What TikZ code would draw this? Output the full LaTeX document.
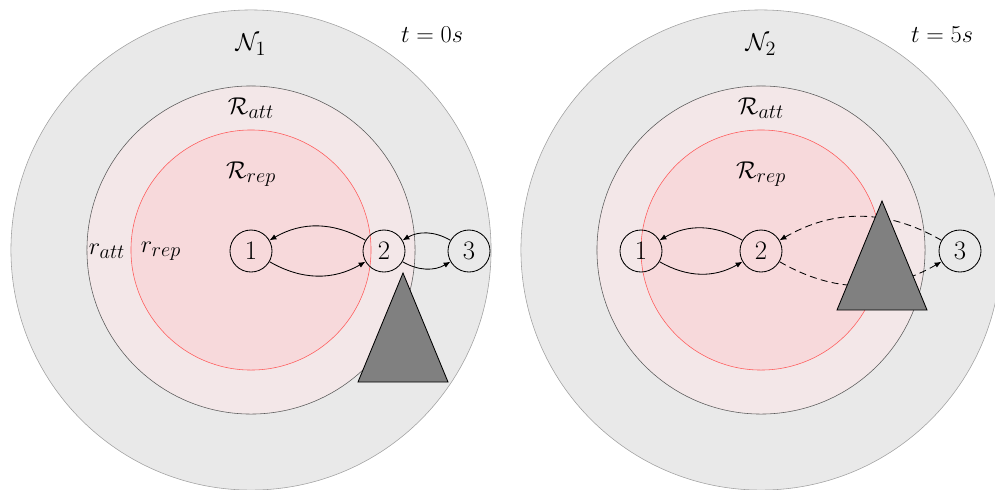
\documentclass[tikz,border=0pt]{standalone}
\usetikzlibrary{arrows.meta}
\definecolor{outerfill}{RGB}{233,233,233}
\definecolor{outerdraw}{RGB}{160,160,160}
\definecolor{midfill}{RGB}{243,231,232}
\definecolor{middraw}{RGB}{90,90,90}
\definecolor{innerfill}{RGB}{247,217,219}
\definecolor{innerdraw}{RGB}{255,90,90}
\definecolor{obst}{RGB}{128,128,128}
\begin{document}
\begin{tikzpicture}[x=0.025cm,y=-0.025cm,
  agent/.style={circle,draw,line width=0.6pt,minimum size=1.05cm,inner sep=0pt,font=\fontsize{19}{23}\selectfont},
  lbl/.style={font=\fontsize{19}{23}\selectfont},
  link/.style={line width=0.6pt,-{Latex[length=1.7mm,width=1.4mm]},bend right=30},
  dlink/.style={link,dash pattern=on 5pt off 3pt},
  outerc/.style={fill=outerfill,draw=outerdraw},
  midc/.style={fill=midfill,draw=middraw},
  innerc/.style={fill=innerfill,draw=innerdraw},
  obstacle/.style={fill=obst,draw=black,line width=0.6pt,line join=miter}]
\useasboundingbox (0,0) rectangle (995,489);
\clip (0,0) rectangle (995,489);
% left panel
\path[outerc] (251,250) circle[radius=6cm];
\path[midc] (251,250) circle[radius=4.1cm];
\path[innerc] (251,250) circle[radius=3cm];
\node[lbl] (N1) at (251,45) {$\mathcal{N}_1$};
\node[lbl] (Ra1) at (251,108) {$\mathcal{R}_{att}$};
\node[lbl] (Rr1) at (251,174) {$\mathcal{R}_{rep}$};
\node[lbl] (ra1) at (107,251) {$r_{att}$};
\node[lbl] (rr1) at (161,251) {$r_{rep}$};
\node[lbl] (t1) at (432,35) {$t=0s$};
\node[agent] (a1) at (251,251) {1};
\node[agent] (a2) at (384,251) {2};
\node[agent] (a3) at (469,251) {3};
\draw[link] (a2) to (a1);
\draw[link] (a1) to (a2);
\draw[link] (a3) to (a2);
\draw[link] (a2) to (a3);
\path[obstacle] (403,273) -- (358,382) -- (448,382) -- cycle;
% right panel
\path[outerc] (761,250) circle[radius=6cm];
\path[midc] (761,250) circle[radius=4.1cm];
\path[innerc] (761,250) circle[radius=3cm];
\node[lbl] (N2) at (761,45) {$\mathcal{N}_2$};
\node[lbl] (Ra2) at (761,108) {$\mathcal{R}_{att}$};
\node[lbl] (Rr2) at (761,174) {$\mathcal{R}_{rep}$};
\node[lbl] (t2) at (942,35) {$t=5s$};
\node[agent] (b1) at (641,251) {1};
\node[agent] (b2) at (761,251) {2};
\node[agent] (b3) at (960,251) {3};
\draw[link] (b2) to (b1);
\draw[link] (b1) to (b2);
\draw[dlink] (b3) to (b2);
\draw[dlink] (b2) to (b3);
\path[obstacle] (882,201) -- (837,310) -- (927,310) -- cycle;
\end{tikzpicture}
\end{document}
